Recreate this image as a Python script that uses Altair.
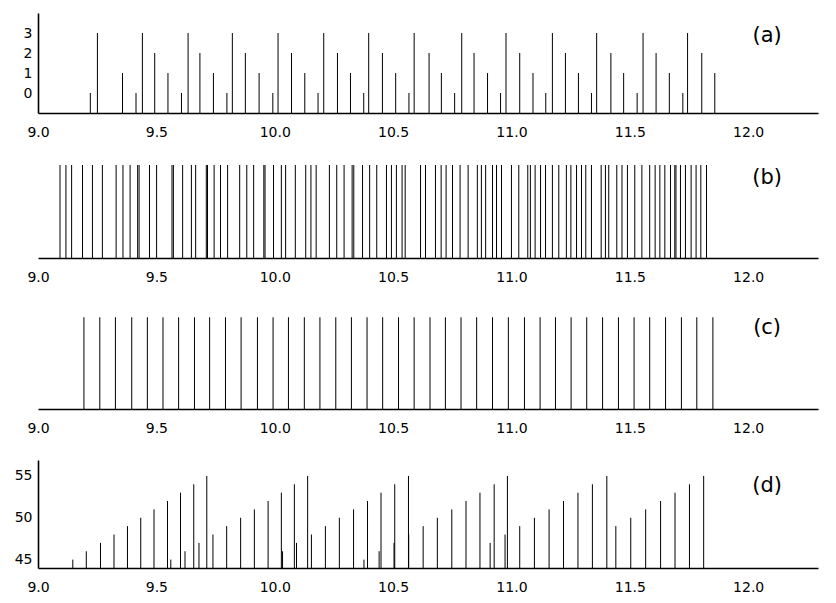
import altair as alt
import pandas as pd

# ---------------- data ----------------
# panel (a): spike positions and levels (0..3)
a_x = [9.221, 9.251, 9.357, 9.414, 9.441, 9.493, 9.549, 9.606, 9.634, 9.684,
       9.741, 9.798, 9.821, 9.876, 9.934, 9.992, 10.014, 10.071, 10.127, 10.183,
       10.207, 10.265, 10.320, 10.376, 10.397, 10.455, 10.511, 10.567, 10.589, 10.652,
       10.704, 10.760, 10.790, 10.842, 10.899, 10.954, 10.977, 11.035, 11.091, 11.145,
       11.173, 11.228, 11.283, 11.338, 11.360, 11.420, 11.474, 11.531, 11.556, 11.611,
       11.667, 11.724, 11.744, 11.804, 11.859]
a_val = [0, 3, 1, 0, 3, 2, 1, 0, 3, 2,
         1, 0, 3, 2, 1, 0, 3, 2, 1, 0,
         3, 2, 1, 0, 3, 2, 1, 0, 3, 2,
         1, 0, 3, 2, 1, 0, 3, 2, 1, 0,
         3, 2, 1, 0, 3, 2, 1, 0, 3, 2,
         1, 0, 3, 2, 1]

# panel (b): spike positions (all the same height)
b_x = [9.093, 9.118, 9.142, 9.188, 9.230, 9.272, 9.330, 9.359, 9.389, 9.421,
       9.427, 9.471, 9.501, 9.566, 9.572, 9.611, 9.648, 9.666, 9.711, 9.716,
       9.744, 9.771, 9.801, 9.852, 9.882, 9.911, 9.954, 9.959, 9.995, 10.028,
       10.046, 10.087, 10.131, 10.153, 10.175, 10.231, 10.262, 10.293, 10.327, 10.334,
       10.371, 10.401, 10.431, 10.472, 10.493, 10.514, 10.538, 10.551, 10.616, 10.637,
       10.679, 10.703, 10.724, 10.751, 10.783, 10.817, 10.856, 10.873, 10.891, 10.920,
       10.937, 10.958, 11.000, 11.031, 11.069, 11.080, 11.100, 11.123, 11.144, 11.173,
       11.200, 11.232, 11.251, 11.275, 11.296, 11.314, 11.338, 11.379, 11.397, 11.411,
       11.445, 11.467, 11.490, 11.521, 11.551, 11.584, 11.607, 11.627, 11.648, 11.672,
       11.690, 11.695, 11.714, 11.735, 11.759, 11.780, 11.800, 11.824]
b_level = 1

# panel (c): spike positions (all the same height)
c_x = [9.194, 9.261, 9.327, 9.396, 9.462, 9.528, 9.594, 9.661, 9.725, 9.792,
       9.858, 9.927, 9.993, 10.058, 10.125, 10.191, 10.258, 10.324, 10.390, 10.456,
       10.523, 10.589, 10.656, 10.721, 10.787, 10.853, 10.920, 10.987, 11.055, 11.121,
       11.186, 11.252, 11.318, 11.385, 11.452, 11.518, 11.584, 11.651, 11.718, 11.783,
       11.851]
c_level = 1

# panel (d): spike positions and levels (45..55)
d_x = [9.147, 9.204, 9.264, 9.321, 9.378, 9.434, 9.490, 9.547, 9.561, 9.602,
       9.621, 9.658, 9.680, 9.713, 9.739, 9.797, 9.856, 9.914, 9.972, 10.028,
       10.033, 10.083, 10.092, 10.139, 10.155, 10.214, 10.273, 10.333, 10.377, 10.392,
       10.441, 10.449, 10.504, 10.507, 10.565, 10.566, 10.627, 10.687, 10.748, 10.808,
       10.867, 10.910, 10.927, 10.973, 10.983, 11.035, 11.097, 11.159, 11.220, 11.281,
       11.342, 11.403, 11.441, 11.504, 11.567, 11.630, 11.691, 11.752, 11.812]
d_val = [45, 46, 47, 48, 49, 50, 51, 52, 45, 53,
         46, 54, 47, 55, 48, 49, 50, 51, 52, 53,
         46, 54, 47, 55, 48, 49, 50, 51, 45, 52,
         46, 53, 47, 54, 55, 48, 49, 50, 51, 52,
         53, 47, 54, 48, 55, 49, 50, 51, 52, 53,
         54, 55, 49, 50, 51, 52, 53, 54, 55]

panel_labels = ["(a)", "(b)", "(c)", "(d)"]
x_ticks = [9.0, 9.5, 10.0, 10.5, 11.0, 11.5, 12.0]
x_domain = [9.0, 12.295]

# ---------------- styling ----------------
FONT = "DejaVu Sans"
W = 780


def x_enc():
    return alt.X(
        "x:Q",
        scale=alt.Scale(domain=x_domain, nice=False, zero=False),
        axis=alt.Axis(values=x_ticks, format=".1f", title=None, grid=False,
                      ticks=False, labelPadding=12, labelFontSize=14,
                      labelFont=FONT, labelColor="black", domainColor="black",
                      domainWidth=1.6, labelFlush=False, labelOverlap=False),
    )


def y_enc(domain, axis_vals):
    yscale = alt.Scale(domain=domain, nice=False, zero=False)
    if axis_vals:
        ax = alt.Axis(values=axis_vals, title=None, grid=False, ticks=False,
                      labelPadding=6, labelFontSize=14, labelFont=FONT,
                      labelColor="black", domainColor="black", domainWidth=1.6,
                      labelOverlap=False, labelFlush=False, format="d")
    else:
        ax = None
    return alt.Y("v:Q", scale=yscale, axis=ax)


def panel(df, domain, base, height, axis_vals, label, label_x, label_y):
    spikes = alt.Chart(df).mark_rule(color="black", strokeWidth=1).encode(
        x=x_enc(),
        y=y_enc(domain, axis_vals),
        y2=alt.datum(base),
    )
    lab = alt.Chart(pd.DataFrame({"x": [label_x], "v": [label_y], "t": [label]})).mark_text(
        fontSize=21, font=FONT, color="black", align="center", baseline="middle"
    ).encode(x=x_enc(), y=y_enc(domain, axis_vals), text="t:N")
    return alt.layer(spikes, lab).properties(width=W, height=height)


df_a = pd.DataFrame({"x": a_x, "v": a_val})
df_b = pd.DataFrame({"x": b_x, "v": [b_level] * len(b_x)})
df_c = pd.DataFrame({"x": c_x, "v": [c_level] * len(c_x)})
df_d = pd.DataFrame({"x": d_x, "v": d_val})

pa = panel(df_a, [-1, 4], -1, 100, [0, 1, 2, 3], panel_labels[0], 12.08, 2.85)
pb = panel(df_b, [0, 1], 0, 93, None, panel_labels[1], 12.08, 0.855)
pc = panel(df_c, [0, 1.09], 0, 100, None, panel_labels[2], 12.08, 0.88)
pd_ = panel(df_d, [44, 56.9], 44, 108, [45, 50, 55], panel_labels[3], 12.08, 53.8)

chart = alt.vconcat(pa, pb, pc, pd_, spacing=25).properties(
    padding={"left": 6, "top": 5, "right": 5, "bottom": 0},
    background="white",
).configure_view(strokeWidth=0, stroke="transparent")

chart.save("out.html", embed_options={"renderer": "svg", "actions": False})
